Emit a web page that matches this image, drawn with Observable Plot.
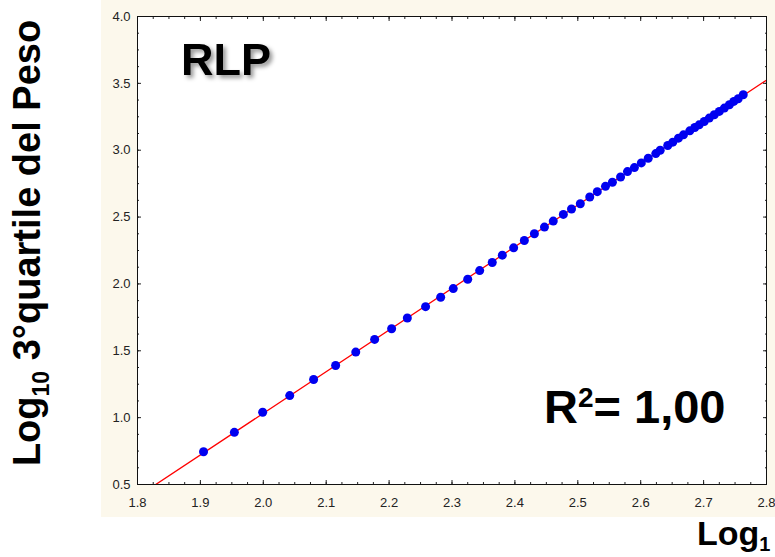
<!DOCTYPE html>
<html>
<head>
<meta charset="utf-8">
<script src="https://cdn.jsdelivr.net/npm/d3@7"></script>
<script src="https://cdn.jsdelivr.net/npm/@observablehq/plot@0.6"></script>
<style>
  html, body { margin: 0; padding: 0; background: #ffffff; }
  #wrap { position: relative; width: 775px; height: 557px; overflow: hidden; background: #ffffff; }
  #panel { position: absolute; left: 101px; top: 0; width: 674px; height: 517px; background: #fcf8ec; }
  #chart { position: absolute; left: 0; top: 0; }
</style>
</head>
<body>
<div id="wrap"><div id="panel"></div><div id="chart"></div></div>
<script>
// Log10 length (x) and Log10 3rd quartile of weight (y)
const logLength = [1.905, 1.954, 1.999, 2.042, 2.080, 2.115, 2.147, 2.177, 2.204, 2.229,
  2.258, 2.282, 2.302, 2.325, 2.344, 2.364, 2.380, 2.398, 2.415, 2.431,
  2.447, 2.461, 2.477, 2.490, 2.504, 2.519, 2.531, 2.544, 2.555, 2.568,
  2.579, 2.590, 2.601, 2.612, 2.624, 2.631, 2.643, 2.651, 2.660, 2.668,
  2.678, 2.686, 2.693, 2.701, 2.709, 2.717, 2.725, 2.733, 2.741, 2.748,
  2.755, 2.763];
const logWeightQ3 = [0.745, 0.89, 1.04, 1.165, 1.285, 1.39, 1.49, 1.585, 1.665, 1.745,
  1.83, 1.90, 1.965, 2.035, 2.10, 2.16, 2.215, 2.27, 2.325, 2.375,
  2.425, 2.47, 2.52, 2.56, 2.60, 2.65, 2.69, 2.73, 2.76, 2.80,
  2.84, 2.87, 2.905, 2.94, 2.975, 3.0, 3.035, 3.06, 3.09, 3.115,
  3.145, 3.17, 3.19, 3.215, 3.24, 3.265, 3.29, 3.315, 3.34, 3.365,
  3.385, 3.415];

const xTicks = [1.8, 1.9, 2.0, 2.1, 2.2, 2.3, 2.4, 2.5, 2.6, 2.7, 2.8];
const yTicks = [0.5, 1.0, 1.5, 2.0, 2.5, 3.0, 3.5, 4.0];
const xMinorTicks = d3.range(0, 41).map(i => +(1.8 + i * 0.025).toFixed(3));
const yMinorTicks = d3.range(0, 29).map(i => +(0.5 + i * 0.125).toFixed(3));
const xDomain = [1.8, 2.8];
const yDomain = [0.5, 4.0];

const points = logLength.map((x, i) => ({x, y: logWeightQ3[i]}));

// least-squares fit, drawn across the whole x domain
const mx = d3.mean(points, d => d.x), my = d3.mean(points, d => d.y);
const slope = d3.sum(points, d => (d.x - mx) * (d.y - my)) / d3.sum(points, d => (d.x - mx) ** 2);
const intercept = my - slope * mx;
const fitLine = xDomain.map(x => ({x, y: intercept + slope * x}));

const fmt = d3.format(".1f");
const axisColor = "#222";

const chart = Plot.plot({
  width: 775,
  height: 557,
  marginLeft: 137,
  marginRight: 9,
  marginTop: 16,
  marginBottom: 73,
  x: {domain: xDomain},
  y: {domain: yDomain},
  style: {background: "transparent", fontFamily: "'Liberation Sans', Arial, sans-serif", fontSize: "13px", color: axisColor},
  marks: [
    Plot.frame({fill: "white", stroke: "none"}),
    Plot.line(fitLine, {x: "x", y: "y", stroke: "#ff0000", strokeWidth: 1.3, clip: true}),
    Plot.dot(points, {x: "x", y: "y", r: 4.5, fill: "#0000f0", stroke: "none"}),
    // minor ticks
    Plot.axisX({ticks: xMinorTicks, tickSize: -2, tickFormat: () => "", label: null, stroke: axisColor}),
    Plot.axisX({anchor: "top", ticks: xMinorTicks, tickSize: -2, tickFormat: () => "", label: null, stroke: axisColor}),
    Plot.axisY({ticks: yMinorTicks, tickSize: -2, tickFormat: () => "", label: null, stroke: axisColor}),
    Plot.axisY({anchor: "right", ticks: yMinorTicks, tickSize: -2, tickFormat: () => "", label: null, stroke: axisColor}),
    // major ticks + labels
    Plot.axisX({ticks: xTicks, tickSize: -4, tickPadding: 17, tickFormat: fmt, label: null, stroke: axisColor, fill: axisColor}),
    Plot.axisX({anchor: "top", ticks: xTicks, tickSize: -4, tickFormat: () => "", label: null, stroke: axisColor}),
    Plot.axisY({ticks: yTicks, tickSize: -4, tickPadding: 11, tickFormat: fmt, label: null, stroke: axisColor, fill: axisColor}),
    Plot.axisY({anchor: "right", ticks: yTicks, tickSize: -4, tickFormat: () => "", label: null, stroke: axisColor}),
    Plot.frame({stroke: "#111", strokeWidth: 1})
  ]
});
document.getElementById("chart").appendChild(chart);

// Annotations and axis titles
const svg = d3.select(chart);
const defs = svg.append("defs");
const f = defs.append("filter").attr("id", "shadow").attr("x", "-20%").attr("y", "-20%").attr("width", "150%").attr("height", "150%");
f.append("feDropShadow").attr("dx", 3).attr("dy", 3).attr("stdDeviation", 2).attr("flood-color", "#000").attr("flood-opacity", 0.4);

const boldFont = "'Liberation Sans', Arial, sans-serif";

svg.append("text")
  .attr("x", 181).attr("y", 75)
  .attr("text-anchor", "start")
  .attr("font-family", boldFont).attr("font-weight", "bold").attr("font-size", 45)
  .attr("fill", "#000").attr("filter", "url(#shadow)")
  .text("RLP");

const r2 = svg.append("text")
  .attr("x", 544).attr("y", 423)
  .attr("text-anchor", "start")
  .attr("font-family", boldFont).attr("font-weight", "bold").attr("font-size", 47)
  .attr("fill", "#000");
r2.append("tspan").text("R");
r2.append("tspan").attr("font-size", 28).attr("dy", -16).text("2");
r2.append("tspan").attr("dy", 16).text("= 1,00");

const yt = svg.append("text")
  .attr("transform", "translate(40,243) rotate(-90)")
  .attr("text-anchor", "middle")
  .attr("font-family", boldFont).attr("font-weight", "bold").attr("font-size", 38)
  .attr("fill", "#000");
yt.append("tspan").text("Log");
yt.append("tspan").attr("font-size", 23).attr("dy", 9).text("10");
yt.append("tspan").attr("dy", -9).text(" 3°quartile del Peso");

const xt = svg.append("text")
  .attr("x", 697).attr("y", 545)
  .attr("text-anchor", "start")
  .attr("font-family", boldFont).attr("font-weight", "bold").attr("font-size", 34)
  .attr("fill", "#000");
xt.append("tspan").text("Log");
xt.append("tspan").attr("font-size", 20).attr("dy", 6).text("1");
</script>
</body>
</html>
